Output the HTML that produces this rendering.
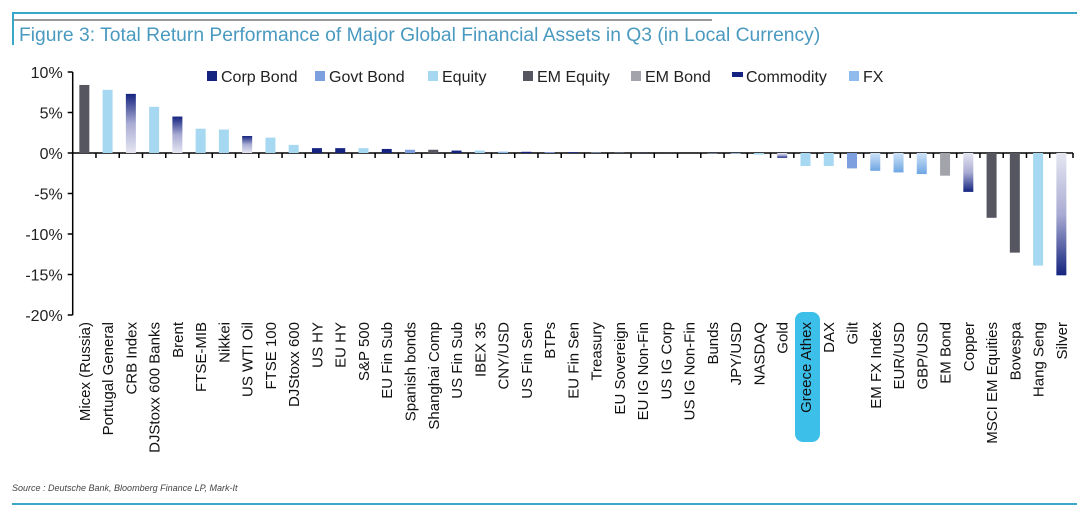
<!DOCTYPE html>
<html><head><meta charset="utf-8"><style>
body{margin:0;background:#fff;}
svg{display:block;font-family:"Liberation Sans",sans-serif;}
</style></head><body>
<svg width="1082" height="511" viewBox="0 0 1082 511">
<defs>
<linearGradient id="comPos" x1="0" y1="1" x2="0" y2="0"><stop offset="0" stop-color="#e6e6f2"/><stop offset="0.5" stop-color="#a9acd3"/><stop offset="1" stop-color="#14237f"/></linearGradient>
<linearGradient id="comNeg" x1="0" y1="0" x2="0" y2="1"><stop offset="0" stop-color="#e6e6f2"/><stop offset="0.5" stop-color="#a9acd3"/><stop offset="1" stop-color="#14237f"/></linearGradient>
<linearGradient id="fxNeg" x1="0" y1="0" x2="0" y2="1"><stop offset="0" stop-color="#cfe3f7"/><stop offset="1" stop-color="#6ea6e3"/></linearGradient>
</defs>
<rect x="0" y="0" width="1082" height="511" fill="#fff"/>
<line x1="12" y1="13" x2="1077" y2="13" stroke="#3aa6c8" stroke-width="2"/>
<line x1="12" y1="20" x2="712" y2="20" stroke="#333" stroke-width="1"/>
<line x1="13" y1="13" x2="13" y2="45" stroke="#3aa6c8" stroke-width="2"/>
<text x="19" y="41" font-size="19.3" fill="#4a9ac0">Figure 3: Total Return Performance of Major Global Financial Assets in Q3 (in Local Currency)</text>
<rect x="795" y="312" width="25" height="130" rx="8" fill="#3cc0ea"/>
<g id="legend"></g>
<g id="axes"></g>
<g id="bars"></g>
<g id="labels"></g>
<text x="12" y="491" font-size="9" font-style="italic" fill="#444">Source : Deutsche Bank, Bloomberg Finance LP, Mark-It</text>
<line x1="12" y1="504" x2="1077" y2="504" stroke="#3aa6c8" stroke-width="2"/>
</svg>
<script>
const categories=["Micex (Russia)","Portugal General","CRB Index","DJStoxx 600 Banks","Brent","FTSE-MIB","Nikkei","US WTI Oil","FTSE 100","DJStoxx 600","US HY","EU HY","S&P 500","EU Fin Sub","Spanish bonds","Shanghai Comp","US Fin Sub","IBEX 35","CNY/USD","US Fin Sen","BTPs","EU Fin Sen","Treasury","EU Sovereign","EU IG Non-Fin","US IG Corp","US IG Non-Fin","Bunds","JPY/USD","NASDAQ","Gold","Greece Athex","DAX","Gilt","EM FX Index","EUR/USD","GBP/USD","EM Bond","Copper","MSCI EM Equities","Bovespa","Hang Seng","Silver"];
const values=[8.4,7.8,7.3,5.7,4.5,3.0,2.9,2.1,1.9,1.0,0.6,0.6,0.6,0.5,0.4,0.4,0.3,0.3,0.2,0.15,0.1,0.1,0.05,0.03,0.02,0.01,0,-0.05,-0.1,-0.2,-0.6,-1.6,-1.6,-1.9,-2.2,-2.4,-2.6,-2.8,-4.8,-8.0,-12.3,-13.9,-15.1];
const types=["emeq","eq","com","eq","com","eq","eq","com","eq","eq","corp","corp","eq","corp","govt","emeq","corp","eq","fx","corp","govt","corp","govt","govt","corp","corp","corp","govt","fx","eq","com","eq","eq","govt","fx","fx","fx","embond","com","emeq","emeq","eq","com"];
const yTicks=[10,5,0,-5,-10,-15,-20];
const legendNames=["Corp Bond","Govt Bond","Equity","EM Equity","EM Bond","Commodity","FX"];
const legendTypes=["corp","govt","eq","emeq","embond","com","fx"];

const NS="http://www.w3.org/2000/svg";
const X0=72.7,X1=1073,Y0=153,PER=8.1;
const step=(X1-X0)/categories.length;
const y=v=>Y0-v*PER;
const xc=i=>X0+step*(i+0.5);
const solid={corp:"#14237f",govt:"#7d9fe0",eq:"#a7d8f2",emeq:"#555660",embond:"#a3a3ab",com:"#14237f",fx:"#8fbcec"};
function fillFor(t,v){if(t==="com")return v>=0?"url(#comPos)":"url(#comNeg)";if(t==="fx")return "url(#fxNeg)";return solid[t];}
function mk(tag,attrs,parent){const e=document.createElementNS(NS,tag);for(const k in attrs)e.setAttribute(k,attrs[k]);parent.appendChild(e);return e;}

const axes=document.getElementById("axes");
const yAxis=mk("line",{x1:X0,y1:y(10),x2:X0,y2:y(-20),stroke:"#000","stroke-width":1.5},axes);


yTicks.forEach(t=>{
  const tk=mk("line",{x1:X0-5,y1:y(t),x2:X0,y2:y(t),stroke:"#000","stroke-width":1.5},axes);
  
  
  const tl=mk("text",{x:X0-10,y:y(t)+6,"text-anchor":"end","font-size":16,fill:"#222"},axes);
  tl.textContent=t+"%";
  
  
});
const xAxis=mk("line",{x1:X0,y1:Y0,x2:X1,y2:Y0,stroke:"#000","stroke-width":1.5},axes);


for(let i=1;i<=categories.length;i++){
  const tk=mk("line",{x1:X0+step*i,y1:Y0,x2:X0+step*i,y2:Y0+5,stroke:"#000","stroke-width":1.5},axes);
  
  
}

const bars=document.getElementById("bars");
const labels=document.getElementById("labels");
const bw=10;
categories.forEach((c,i)=>{
  const v=values[i];
  const top=Math.min(y(v),Y0),h=Math.max(Math.abs(y(v)-Y0),0.01);
  const r=mk("rect",{x:xc(i)-bw/2,y:top,width:bw,height:h,fill:fillFor(types[i],v)},bars);
  
  
  const lx=xc(i)+5.5,ly=322;
  const t=mk("text",{x:lx,y:ly,"text-anchor":"end","font-size":15,fill:"#111",transform:`rotate(-90 ${lx} ${ly})`},labels);
  t.textContent=c;
  
  
});

const lg=document.getElementById("legend");
const lgX=[207,315,428,523,631,732,849];
legendNames.forEach((n,i)=>{
  const t=legendTypes[i];
  let sw;
  if(t==="com"){sw=mk("rect",{x:lgX[i],y:72,width:11,height:5,fill:"#14237f"},lg);}
  else{sw=mk("rect",{x:lgX[i],y:71,width:10,height:10,fill:t==="fx"?"#8fbcec":solid[t]},lg);}
  
  
  const tx=mk("text",{x:lgX[i]+14,y:82,"font-size":16,fill:"#222"},lg);
  tx.textContent=n;
  
  
});
</script>
</body></html>
